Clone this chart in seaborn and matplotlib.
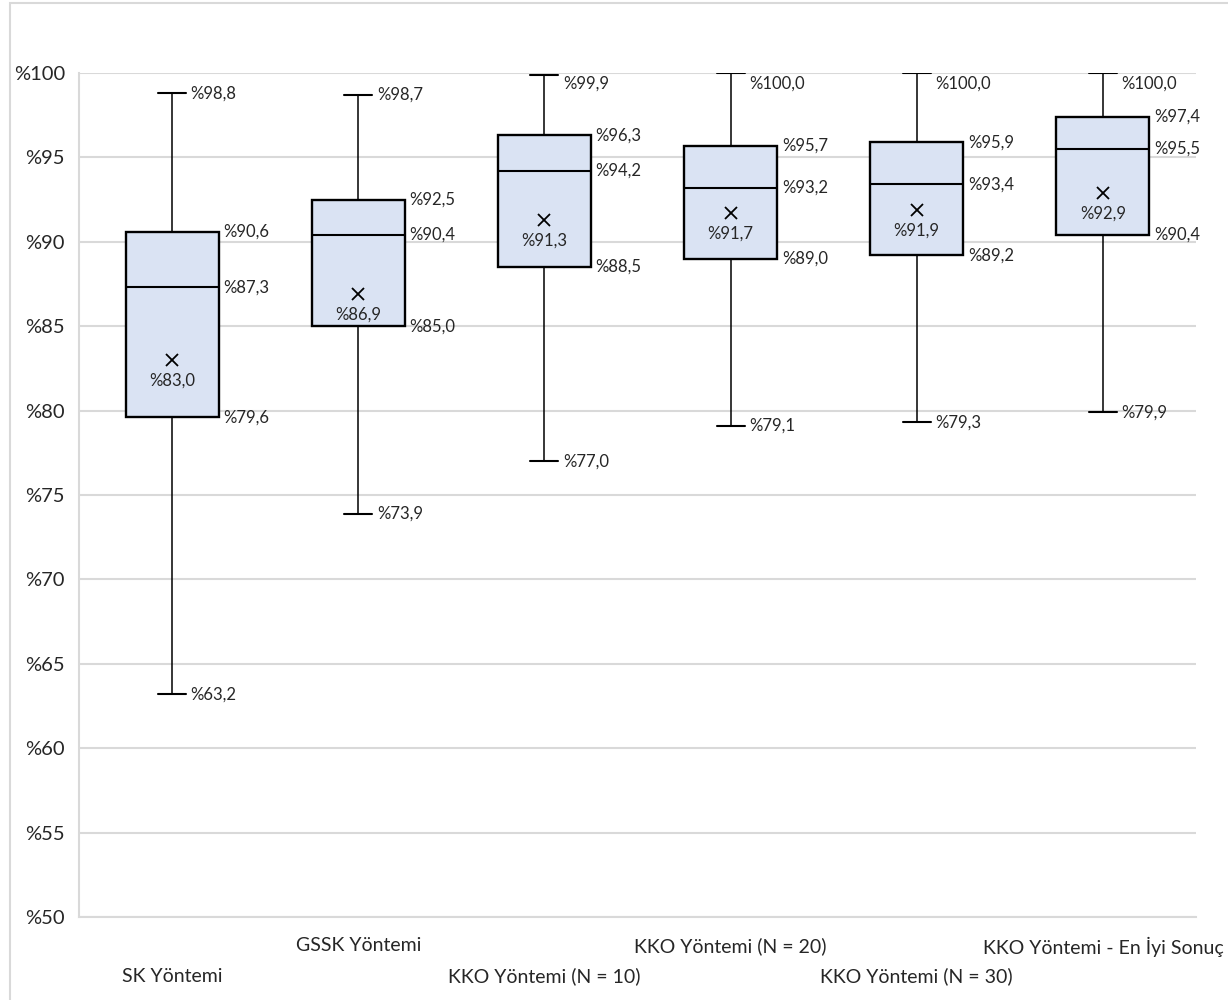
import matplotlib
matplotlib.use('Agg')
import matplotlib.pyplot as plt
import numpy as np
import pandas as pd
import seaborn as sns

# Summary values (percent)
methods = ['SK Yöntemi', 'GSSK Yöntemi', 'KKO Yöntemi (N = 10)',
           'KKO Yöntemi (N = 20)', 'KKO Yöntemi (N = 30)', 'KKO Yöntemi - En İyi Sonuç']
minimum = [63.2, 73.9, 77.0, 79.1, 79.3, 79.9]
q1 = [79.6, 85.0, 88.5, 89.0, 89.2, 90.4]
median = [87.3, 90.4, 94.2, 93.2, 93.4, 95.5]
q3 = [90.6, 92.5, 96.3, 95.7, 95.9, 97.4]
maximum = [98.8, 98.7, 99.9, 100.0, 100.0, 100.0]
mean = [83.0, 86.9, 91.3, 91.7, 91.9, 92.9]

# Five-number summary per method -> long table, quartiles fall exactly on the points
rows = []
for i, m in enumerate(methods):
    for v in (minimum[i], q1[i], median[i], q3[i], maximum[i]):
        rows.append({'method': m, 'value': v})
df = pd.DataFrame(rows)

sns.set_theme(style='white')
plt.rcParams['font.family'] = ['Lato', 'DejaVu Sans']

fig = plt.figure(figsize=(12.28, 10), dpi=100)
ax = fig.add_axes([79 / 1228, 83 / 1000, (1196 - 79) / 1228, (917 - 73) / 1000])

box_w = 0.5
cap_w = 0.15
sns.boxplot(data=df, x='method', y='value', order=methods, width=box_w, whis=(0, 100),
            color='#DAE3F3', linecolor='black', fill=True, ax=ax, capwidths=cap_w,
            boxprops=dict(linewidth=1.7, edgecolor='black', facecolor='#DAE3F3'),
            medianprops=dict(linewidth=1.5, color='black'),
            whiskerprops=dict(linewidth=1.1, color='black'),
            capprops=dict(linewidth=1.5, color='black'))

# Mean markers
sns.pointplot(x=methods, y=mean, order=methods, linestyle='none', marker='x', color='black',
              markersize=9, markeredgewidth=1.3, errorbar=None, ax=ax)

label_size = 12
for i in range(len(methods)):
    # box statistics on the right edge of the box
    for v in (q1[i], median[i], q3[i]):
        ax.text(i + box_w / 2 + 0.025, v, '%' + f'{v:.1f}'.replace('.', ','),
                ha='left', va='center', fontsize=label_size)
    # whisker ends next to the caps, keep top labels inside the plot
    for v in (minimum[i], maximum[i]):
        ax.text(i + cap_w / 2 + 0.025, min(v, 99.35), '%' + f'{v:.1f}'.replace('.', ','),
                ha='left', va='center', fontsize=label_size)
    ax.annotate('%' + f'{mean[i]:.1f}'.replace('.', ','), (i, mean[i]), xytext=(0, -15),
                textcoords='offset points', ha='center', va='center', fontsize=label_size)

ax.set_ylim(50, 100)
ax.set_xlim(-0.5, len(methods) - 0.5)
ax.set_yticks(np.arange(50, 101, 5))
ax.set_yticklabels(['%' + str(t) for t in range(50, 101, 5)], fontsize=14.5)
ax.yaxis.grid(True, color='#D9D9D9', linewidth=1.5)
ax.set_axisbelow(True)

# staggered category labels
ax.set_xticks(range(1, len(methods), 2))
ax.set_xticklabels(methods[1::2], fontsize=14)
ax.set_xticks(range(0, len(methods), 2), minor=True)
ax.set_xticklabels(methods[0::2], minor=True, fontsize=14)
ax.tick_params(axis='x', which='major', length=0, pad=14.5)
ax.tick_params(axis='x', which='minor', length=0, pad=36.5)
ax.tick_params(axis='y', length=0, pad=10)
ax.set_xlabel('')
ax.set_ylabel('')

for side in ('top', 'right'):
    ax.spines[side].set_visible(False)
for side in ('left', 'bottom'):
    ax.spines[side].set_color('#D9D9D9')
    ax.spines[side].set_linewidth(1.5)

# chart area border
fig.patches.append(plt.Rectangle((10 / 1228, -0.01), 1.1, 1 - 3 / 1000 + 0.01, transform=fig.transFigure,
                                 fill=False, edgecolor='#D9D9D9', linewidth=1.5))

fig.savefig('out.png', dpi=100)
